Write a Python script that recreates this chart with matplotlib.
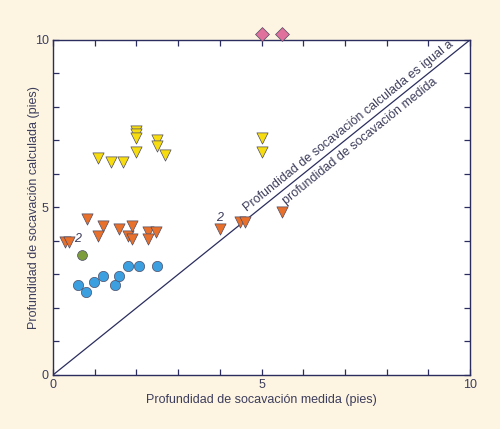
import matplotlib.pyplot as plt

plt.rcParams['font.family'] = ['Liberation Sans', 'DejaVu Sans']

# lecturas aproximadas del gráfico (pies)
azul_x = [0.59, 0.79, 0.99, 1.19, 1.49, 1.59, 1.79, 2.07, 2.49]
azul_y = [2.67, 2.47, 2.77, 2.96, 2.67, 2.96, 3.26, 3.26, 3.26]

verde_x = [0.69]
verde_y = [3.58]

naranja_x = [0.29, 0.39, 0.81, 1.19, 1.09, 1.59, 1.79, 1.89, 1.90, 2.27, 2.27, 2.47, 4.0, 4.48, 4.60, 5.50]
naranja_y = [3.96, 3.96, 4.66, 4.46, 4.15, 4.36, 4.16, 4.46, 4.05, 4.26, 4.06, 4.26, 4.36, 4.56, 4.56, 4.86]

amarillo_x = [1.09, 1.39, 1.69, 2.0, 2.0, 2.0, 2.0, 2.49, 2.49, 2.69, 5.0, 5.0]
amarillo_y = [6.47, 6.35, 6.35, 6.65, 7.28, 7.18, 7.08, 7.01, 6.84, 6.55, 7.07, 6.65]

rosa_x = [5.0, 5.5]
rosa_y = [10.18, 10.18]

ticks = list(range(11))
tick_labels = ['0', '', '', '', '', '5', '', '', '', '', '10']

fondo = '#fdf5e2'
azul_oscuro = '#2b2d5e'
texto = '#3d3d5c'
borde = '#4d4d66'

fig = plt.figure(figsize=(5, 4.29), dpi=100, facecolor=fondo)
ax = fig.add_axes([0.106, 0.126, 0.834, 0.781])
ax.set_facecolor('white')

ax.plot([0, 10], [0, 10], color=azul_oscuro, lw=0.9, zorder=1)

ax.scatter(azul_x, azul_y, s=55, marker='o', color='#3b9fe0', edgecolors=borde, linewidths=0.5, zorder=3)
ax.scatter(verde_x, verde_y, s=50, marker='o', color='#7d9c3c', edgecolors=borde, linewidths=0.5, zorder=3)
ax.scatter(naranja_x, naranja_y, s=65, marker='v', color='#e8702a', edgecolors=borde, linewidths=0.5, zorder=3)
ax.scatter(amarillo_x, amarillo_y, s=65, marker='v', color='#f7dc10', edgecolors=borde, linewidths=0.5, zorder=3)
ax.scatter(rosa_x, rosa_y, s=50, marker='D', color='#e0709c', edgecolors=borde, linewidths=0.5,
           zorder=4, clip_on=False)

ax.text(0.6, 4.06, '2', fontsize=9, style='italic', color=texto, ha='center', va='center')
ax.text(4.0, 4.69, '2', fontsize=9, style='italic', color=texto, ha='center', va='center')

ax.text(7.1, 7.43, 'Profundidad de socavación calculada es igual a', fontsize=9, color=texto,
        rotation=38.8, rotation_mode='anchor', ha='center', va='center')
ax.text(7.36, 6.96, 'profundidad de socavación medida', fontsize=9, color=texto,
        rotation=38.8, rotation_mode='anchor', ha='center', va='center')

ax.set_xlim(0, 10)
ax.set_ylim(0, 10)
ax.set_xticks(ticks)
ax.set_xticklabels(tick_labels)
ax.set_yticks(ticks)
ax.set_yticklabels(tick_labels)
ax.tick_params(direction='in', length=4, width=0.9, color=azul_oscuro, labelcolor=texto,
               labelsize=9, top=True, right=True, pad=3)
for s in ax.spines.values():
    s.set_color(azul_oscuro)
    s.set_linewidth(1.0)

ax.set_xlabel('Profundidad de socavación medida (pies)', fontsize=9, color=texto, labelpad=2)
ax.set_ylabel('Profundidad de socavación calculada (pies)', fontsize=9, color=texto, labelpad=-4)

fig.savefig('out.png', dpi=100, facecolor=fondo)
